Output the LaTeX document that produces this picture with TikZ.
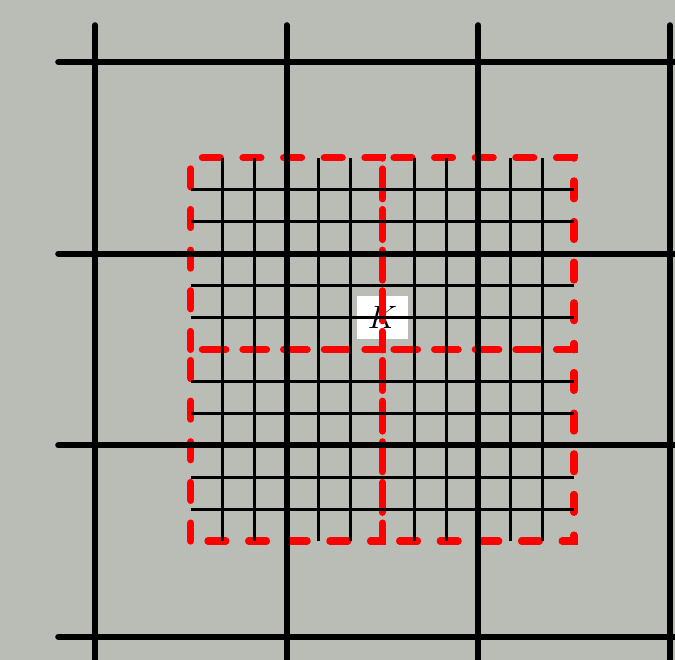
\documentclass[tikz,border=0pt]{standalone}
\definecolor{fondo}{HTML}{BABDB6}
\begin{document}
\begin{tikzpicture}[x=0.5cm,y=0.5cm,
  gruesa/.style={line width=2.7pt,line cap=round},
  fina/.style={line width=1.3pt},
  cubo/.style={red,line width=3.2pt,line cap=round,dash pattern=on 8pt off 10.1pt}]
  % Fondo
  \fill[fondo] (-2.974,-0.72) rectangle (18.16,19.94);
  \useasboundingbox (-2.974,-0.72) rectangle (18.16,19.94);
  \clip (-2.974,-0.72) rectangle (18.16,19.94);

  % Etiqueta del cubo
  \node[fill=white,inner sep=4.7pt,font=\Large] (K) at (9,10) {$K$};

  % Cubos diadicos (rojo, discontinuo)
  \foreach \a/\b in {3/3, 9/3, 3/9, 9/9}
    \draw[cubo] (\a,\b) rectangle ++(6,6);

  % Rejilla fina
  \foreach \i in {4,5,7,8,10,11,13,14} {
    \draw[fina] (\i,3) -- (\i,15);
    \draw[fina] (3,\i) -- (15,\i);
  }

  % Rejilla gruesa
  \foreach \k in {0,6,12,18} {
    \draw[gruesa] (\k,-1.5) -- (\k,19.15);
    \draw[gruesa] (-1.15,\k) -- (19.5,\k);
  }
\end{tikzpicture}
\end{document}
